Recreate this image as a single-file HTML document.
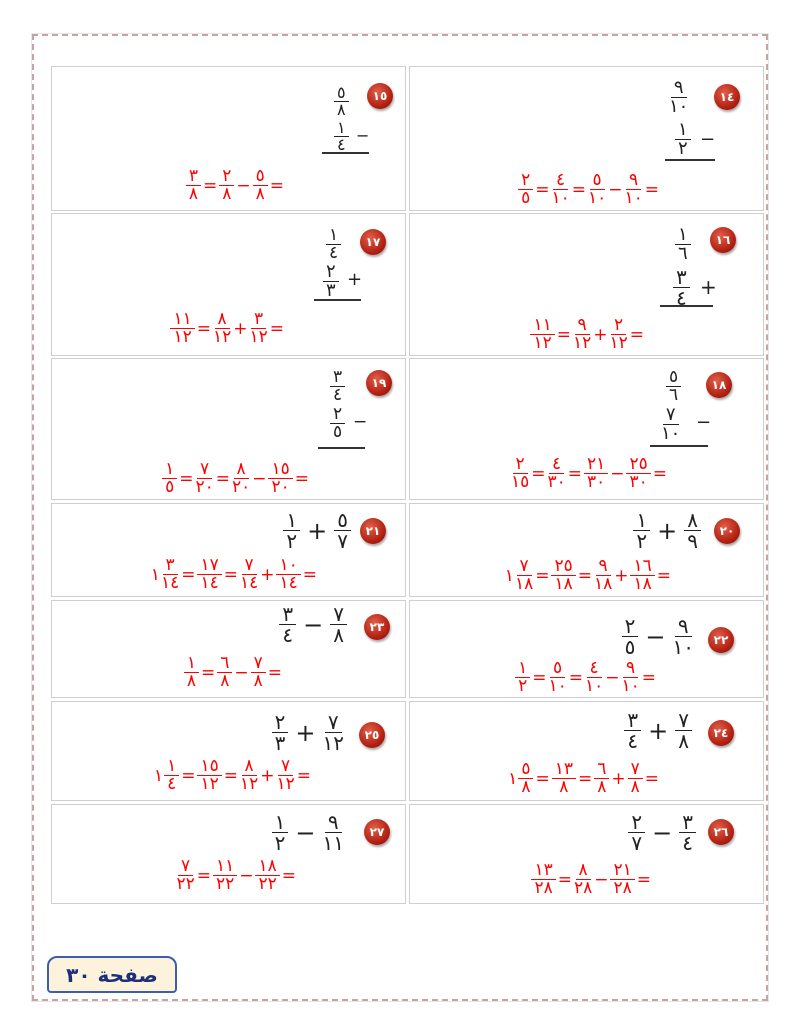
<!DOCTYPE html>
<html><head><meta charset="utf-8">
<style>
*{margin:0;padding:0;box-sizing:border-box}
body{width:800px;height:1035px;background:#fff;position:relative;overflow:hidden;font-family:"DejaVu Sans","Liberation Sans","Noto Sans CJK SC",sans-serif}
.frame{position:absolute;left:32px;top:34px;width:736px;height:967px;border:2px dashed #c9a3a3;}
.frame2{position:absolute;left:31px;top:33px;width:738px;height:969px;border:1px solid #e6e6e6;}
.cell{position:absolute;border:1.5px solid #cfcfcf;background:#fff}
.badge{position:absolute;width:26px;height:26px;border-radius:50%;background:radial-gradient(circle at 40% 35%,#e0604a,#b01e10 65%,#7a0f08);color:#fff;font-size:12px;font-weight:bold;display:flex;align-items:center;justify-content:center;box-shadow:1px 2px 2px rgba(0,0,0,.35)}
.eq{position:absolute;display:flex;align-items:center;direction:ltr;white-space:nowrap}
.red{color:#f00;font-size:17px}
.blk{color:#222;font-size:20px}
.f{display:inline-flex;flex-direction:column;align-items:center;margin:0 1px}
.f i{font-style:normal;border-bottom:1.5px solid;padding:0 3px;line-height:1.0}
.f b{font-weight:normal;line-height:1.05}
.op{margin:0 1px}
.blk .op{margin:0 6px;font-size:24px}
.stk{position:absolute;color:#222;font-size:18px}
.stk .m{position:absolute;top:10px}
.line{position:absolute;height:2px;background:#333}
.foot{position:absolute;left:47px;top:956px;width:130px;height:37px;border:2px solid #3d5ea8;border-radius:10px 10px 4px 4px;background:#fdf3dc;color:#1d2f7a;font-weight:bold;font-size:20px;display:flex;align-items:center;justify-content:center;font-family:"DejaVu Sans","Noto Sans CJK SC",sans-serif}
</style></head><body>
<div class="frame2"></div><div class="frame"></div>

<div class="cell" style="left:409px;top:66px;width:355px;height:145px"></div>
<div class="cell" style="left:51px;top:66px;width:355px;height:145px"></div>
<div class="cell" style="left:409px;top:213px;width:355px;height:143px"></div>
<div class="cell" style="left:51px;top:213px;width:355px;height:143px"></div>
<div class="cell" style="left:409px;top:358px;width:355px;height:142px"></div>
<div class="cell" style="left:51px;top:358px;width:355px;height:142px"></div>
<div class="cell" style="left:409px;top:503px;width:355px;height:94px"></div>
<div class="cell" style="left:51px;top:503px;width:355px;height:94px"></div>
<div class="cell" style="left:409px;top:600px;width:355px;height:98px"></div>
<div class="cell" style="left:51px;top:600px;width:355px;height:98px"></div>
<div class="cell" style="left:409px;top:701px;width:355px;height:100px"></div>
<div class="cell" style="left:51px;top:701px;width:355px;height:100px"></div>
<div class="cell" style="left:409px;top:804px;width:355px;height:100px"></div>
<div class="cell" style="left:51px;top:804px;width:355px;height:100px"></div>

<div class="badge" style="left:714px;top:84px">١٤</div>
<div class="badge" style="left:367px;top:83px">١٥</div>
<div class="badge" style="left:710px;top:227px">١٦</div>
<div class="badge" style="left:360px;top:229px">١٧</div>
<div class="badge" style="left:706px;top:372px">١٨</div>
<div class="badge" style="left:366px;top:370px">١٩</div>
<div class="badge" style="left:714px;top:518px">٢٠</div>
<div class="badge" style="left:360px;top:518px">٢١</div>
<div class="badge" style="left:708px;top:627px">٢٢</div>
<div class="badge" style="left:364px;top:614px">٢٣</div>
<div class="badge" style="left:708px;top:720px">٢٤</div>
<div class="badge" style="left:359px;top:722px">٢٥</div>
<div class="badge" style="left:708px;top:819px">٢٦</div>
<div class="badge" style="left:364px;top:819px">٢٧</div>

<div class="stk" style="left:668px;top:77px"><span class="f"><i>٩</i><b>١٠</b></span></div>
<div class="stk" style="left:674px;top:119px"><span class="f"><i>١</i><b>٢</b></span><span class="m" style="left:26px">−</span></div>
<div class="line" style="left:665px;top:159px;width:50px"></div>
<div class="stk" style="left:333px;top:83px;font-size:16px"><span class="f"><i>٥</i><b>٨</b></span></div>
<div class="stk" style="left:333px;top:118px;font-size:16px"><span class="f"><i>١</i><b>٤</b></span><span class="m" style="left:23px;top:8px">−</span></div>
<div class="line" style="left:322px;top:152px;width:47px"></div>

<div class="eq red" style="right:140px;top:172px"><span class="f"><i>٢</i><b>٥</b></span><span class="op">=</span><span class="f"><i>٤</i><b>١٠</b></span><span class="op">=</span><span class="f"><i>٥</i><b>١٠</b></span><span class="op">−</span><span class="f"><i>٩</i><b>١٠</b></span><span class="op">=</span></div>
<div class="eq red" style="right:515px;top:168px"><span class="f"><i>٣</i><b>٨</b></span><span class="op">=</span><span class="f"><i>٢</i><b>٨</b></span><span class="op">−</span><span class="f"><i>٥</i><b>٨</b></span><span class="op">=</span></div>

<div class="stk" style="left:674px;top:224px"><span class="f"><i>١</i><b>٦</b></span></div>
<div class="stk" style="left:672px;top:265px;font-size:20px"><span class="f"><i>٣</i><b>٤</b></span><span class="m" style="left:28px">+</span></div>
<div class="line" style="left:660px;top:305px;width:53px"></div>
<div class="stk" style="left:325px;top:225px;font-size:17px"><span class="f"><i>١</i><b>٤</b></span></div>
<div class="stk" style="left:322px;top:261px;font-size:18px"><span class="f"><i>٢</i><b>٣</b></span><span class="m" style="left:25px;top:8px">+</span></div>
<div class="line" style="left:314px;top:299px;width:47px"></div>
<div class="eq red" style="right:155px;top:317px"><span class="f"><i>١١</i><b>١٢</b></span><span class="op">=</span><span class="f"><i>٩</i><b>١٢</b></span><span class="op">+</span><span class="f"><i>٢</i><b>١٢</b></span><span class="op">=</span></div>
<div class="eq red" style="right:515px;top:311px"><span class="f"><i>١١</i><b>١٢</b></span><span class="op">=</span><span class="f"><i>٨</i><b>١٢</b></span><span class="op">+</span><span class="f"><i>٣</i><b>١٢</b></span><span class="op">=</span></div>

<div class="stk" style="left:665px;top:367px;font-size:17px"><span class="f"><i>٥</i><b>٦</b></span></div>
<div class="stk" style="left:660px;top:404px;font-size:18px"><span class="f"><i>٧</i><b>١٠</b></span><span class="m" style="left:36px;top:8px">−</span></div>
<div class="line" style="left:650px;top:445px;width:58px"></div>
<div class="stk" style="left:329px;top:367px;font-size:17px"><span class="f"><i>٣</i><b>٤</b></span></div>
<div class="stk" style="left:329px;top:404px;font-size:17px"><span class="f"><i>٢</i><b>٥</b></span><span class="m" style="left:24px;top:8px">−</span></div>
<div class="line" style="left:318px;top:447px;width:47px"></div>
<div class="eq red" style="right:132px;top:456px"><span class="f"><i>٢</i><b>١٥</b></span><span class="op">=</span><span class="f"><i>٤</i><b>٣٠</b></span><span class="op">=</span><span class="f"><i>٢١</i><b>٣٠</b></span><span class="op">−</span><span class="f"><i>٢٥</i><b>٣٠</b></span><span class="op">=</span></div>
<div class="eq red" style="right:490px;top:461px"><span class="f"><i>١</i><b>٥</b></span><span class="op">=</span><span class="f"><i>٧</i><b>٢٠</b></span><span class="op">=</span><span class="f"><i>٨</i><b>٢٠</b></span><span class="op">−</span><span class="f"><i>١٥</i><b>٢٠</b></span><span class="op">=</span></div>

<div class="eq blk" style="right:98px;top:510px"><span class="f"><i>١</i><b>٢</b></span><span class="op">+</span><span class="f"><i>٨</i><b>٩</b></span></div>
<div class="eq blk" style="right:448px;top:510px"><span class="f"><i>١</i><b>٢</b></span><span class="op">+</span><span class="f"><i>٥</i><b>٧</b></span></div>
<div class="eq red" style="right:128px;top:558px"><span>١</span><span class="f"><i>٧</i><b>١٨</b></span><span class="op">=</span><span class="f"><i>٢٥</i><b>١٨</b></span><span class="op">=</span><span class="f"><i>٩</i><b>١٨</b></span><span class="op">+</span><span class="f"><i>١٦</i><b>١٨</b></span><span class="op">=</span></div>
<div class="eq red" style="right:482px;top:557px"><span>١</span><span class="f"><i>٣</i><b>١٤</b></span><span class="op">=</span><span class="f"><i>١٧</i><b>١٤</b></span><span class="op">=</span><span class="f"><i>٧</i><b>١٤</b></span><span class="op">+</span><span class="f"><i>١٠</i><b>١٤</b></span><span class="op">=</span></div>

<div class="eq blk" style="right:105px;top:616px"><span class="f"><i>٢</i><b>٥</b></span><span class="op">−</span><span class="f"><i>٩</i><b>١٠</b></span></div>
<div class="eq blk" style="right:452px;top:604px"><span class="f"><i>٣</i><b>٤</b></span><span class="op">−</span><span class="f"><i>٧</i><b>٨</b></span></div>
<div class="eq red" style="right:143px;top:660px"><span class="f"><i>١</i><b>٢</b></span><span class="op">=</span><span class="f"><i>٥</i><b>١٠</b></span><span class="op">=</span><span class="f"><i>٤</i><b>١٠</b></span><span class="op">−</span><span class="f"><i>٩</i><b>١٠</b></span><span class="op">=</span></div>
<div class="eq red" style="right:517px;top:655px"><span class="f"><i>١</i><b>٨</b></span><span class="op">=</span><span class="f"><i>٦</i><b>٨</b></span><span class="op">−</span><span class="f"><i>٧</i><b>٨</b></span><span class="op">=</span></div>

<div class="eq blk" style="right:107px;top:710px"><span class="f"><i>٣</i><b>٤</b></span><span class="op">+</span><span class="f"><i>٧</i><b>٨</b></span></div>
<div class="eq blk" style="right:455px;top:712px"><span class="f"><i>٢</i><b>٣</b></span><span class="op">+</span><span class="f"><i>٧</i><b>١٢</b></span></div>
<div class="eq red" style="right:140px;top:761px"><span>١</span><span class="f"><i>٥</i><b>٨</b></span><span class="op">=</span><span class="f"><i>١٣</i><b>٨</b></span><span class="op">=</span><span class="f"><i>٦</i><b>٨</b></span><span class="op">+</span><span class="f"><i>٧</i><b>٨</b></span><span class="op">=</span></div>
<div class="eq red" style="right:488px;top:758px"><span>١</span><span class="f"><i>١</i><b>٤</b></span><span class="op">=</span><span class="f"><i>١٥</i><b>١٢</b></span><span class="op">=</span><span class="f"><i>٨</i><b>١٢</b></span><span class="op">+</span><span class="f"><i>٧</i><b>١٢</b></span><span class="op">=</span></div>

<div class="eq blk" style="right:103px;top:812px"><span class="f"><i>٢</i><b>٧</b></span><span class="op">−</span><span class="f"><i>٣</i><b>٤</b></span></div>
<div class="eq blk" style="right:455px;top:812px"><span class="f"><i>١</i><b>٢</b></span><span class="op">−</span><span class="f"><i>٩</i><b>١١</b></span></div>
<div class="eq red" style="right:148px;top:862px"><span class="f"><i>١٣</i><b>٢٨</b></span><span class="op">=</span><span class="f"><i>٨</i><b>٢٨</b></span><span class="op">−</span><span class="f"><i>٢١</i><b>٢٨</b></span><span class="op">=</span></div>
<div class="eq red" style="right:503px;top:858px"><span class="f"><i>٧</i><b>٢٢</b></span><span class="op">=</span><span class="f"><i>١١</i><b>٢٢</b></span><span class="op">−</span><span class="f"><i>١٨</i><b>٢٢</b></span><span class="op">=</span></div>

<div class="foot">صفحة ٣٠</div>
</body></html>
